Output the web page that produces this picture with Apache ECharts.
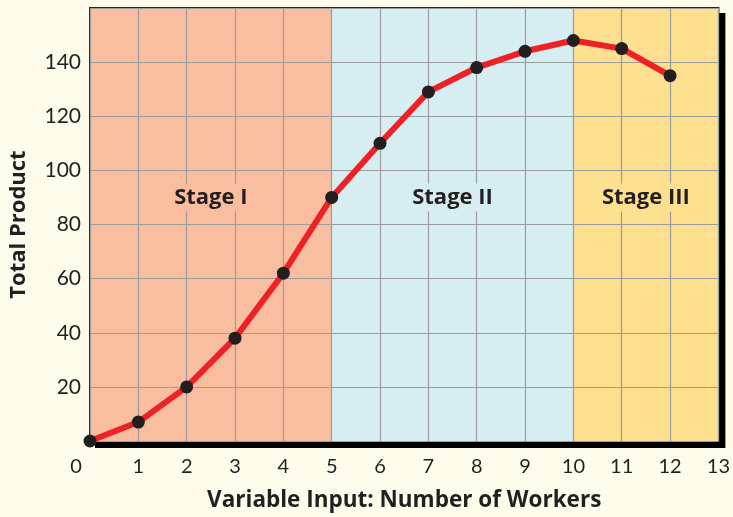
<!DOCTYPE html>
<html><head><meta charset="utf-8">
<script src="https://cdn.jsdelivr.net/npm/echarts@6/dist/echarts.min.js"></script>
<style>html,body{margin:0;padding:0;background:#FEFBEA;}#c{width:733px;height:517px;}</style>
</head><body><div id="c"></div>
<script>
var workers = [0,1,2,3,4,5,6,7,8,9,10,11,12];
var totalProduct = [0,7,20,38,62,90,110,129,138,144,148,145,135];
var stages = [
  {name:'Stage I', from:0, to:5, color:'#F9BE9F'},
  {name:'Stage II', from:5, to:10, color:'#D6EEF2'},
  {name:'Stage III', from:10, to:13, color:'#FDE08F'}
];
var stageLabelY = 90;
var xTitle = 'Variable Input: Number of Workers';
var yTitle = 'Total Product';
var FONT = 'Lato';
var TFONT = 'Open Sans';
var chart = echarts.init(document.getElementById('c'));
chart.setOption({
  backgroundColor:'#FEFBEA',
  animation:false,
  grid:{left:90,right:13,top:8,bottom:75,show:true,backgroundColor:'#FEFBEA',borderColor:'#2a2627',borderWidth:2,
    shadowColor:'#000',shadowBlur:0,shadowOffsetX:6,shadowOffsetY:6},
  xAxis:{type:'value',min:0,max:13,interval:1,z:5,
    name:xTitle,nameLocation:'middle',nameGap:48,
    nameTextStyle:{fontFamily:TFONT,fontWeight:'bold',fontSize:22.5,color:'#231F20'},
    axisLine:{show:false},axisTick:{show:false},
    axisLabel:{fontFamily:FONT,fontSize:20,color:'#231F20',margin:16,
      formatter:function(v){return v===0?'{z|0}':String(v);},
      rich:{z:{fontFamily:FONT,fontSize:20,color:'#231F20',padding:[0,28,0,0]}}},
    splitLine:{show:true,lineStyle:{color:'#9c9c9c',width:1.2}}},
  yAxis:{type:'value',min:0,max:160,interval:20,z:5,
    name:yTitle,nameLocation:'middle',nameGap:60,nameRotate:90,
    nameTextStyle:{fontFamily:TFONT,fontWeight:'bold',fontSize:22,color:'#231F20'},
    axisLine:{show:false},axisTick:{show:false},
    axisLabel:{fontFamily:FONT,fontSize:21,color:'#231F20',margin:9,showMinLabel:false,showMaxLabel:false},
    splitLine:{show:true,lineStyle:{color:'#9c9c9c',width:1.2}}},
  series:[
    {type:'line',z:1,data:[],silent:true,
      markArea:{silent:true,data:stages.map(function(s){
        return [{xAxis:s.from,yAxis:0,itemStyle:{color:s.color}},{xAxis:s.to,yAxis:160}];})}},
    {type:'scatter',z:6,silent:true,symbolSize:0,itemStyle:{opacity:1},
      data:stages.map(function(s){return {value:[(s.from+s.to)/2,stageLabelY],
        itemStyle:{opacity:1},
        label:{show:true,position:'inside',formatter:s.name,backgroundColor:s.color,padding:[3,5],
          opacity:1,textBorderWidth:0,textBorderColor:'transparent',
          fontFamily:TFONT,fontWeight:'bold',fontSize:22,color:'#231F20'}};})},
    {type:'line',z:10,clip:false,data:workers.map(function(w,i){return [w,totalProduct[i]];}),
      lineStyle:{color:'#EE2126',width:6},symbol:'circle',symbolSize:13,
      itemStyle:{color:'#231F20'}}
  ]
});
</script></body></html>
